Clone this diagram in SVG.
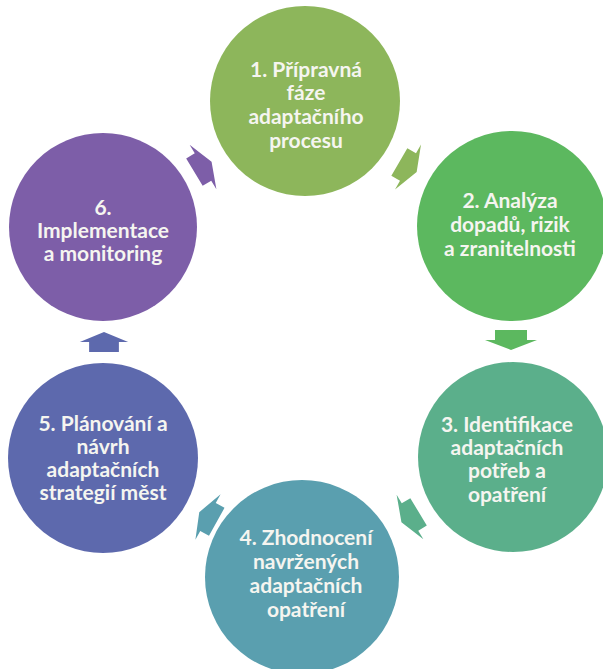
<svg xmlns="http://www.w3.org/2000/svg" width="603" height="669" viewBox="0 0 603 669">
<defs>
<style>
.lbl{font-family:Lato,"Liberation Sans",sans-serif;font-weight:700;font-size:21px;fill:#F5F5F0;text-anchor:middle}
</style>
<path id="arr" d="M-10,-16 L0,-16 L0,-26 L10,0 L0,26 L0,16 L-10,16 Z"/>
</defs>
<rect width="603" height="669" fill="#FFFFFF"/>
<g id="connectors">
<use href="#arr" fill="#8DB65B" transform="translate(408,167) rotate(30)"/>
<use href="#arr" fill="#5CB85F" transform="translate(511,340) rotate(90)"/>
<use href="#arr" fill="#5BAF8B" transform="translate(410,517) rotate(149)"/>
<use href="#arr" fill="#5A9FAF" transform="translate(208,517) rotate(209)"/>
<use href="#arr" fill="#5D69AD" transform="translate(104,342) rotate(-90) scale(1,0.93)"/>
<use href="#arr" fill="#7D5EA8" transform="translate(203,167) rotate(-31)"/>
</g>
<g id="node1">
<circle cx="305" cy="101" r="95" fill="#8DB65B"/>
<text class="lbl"><tspan x="306" y="77">1. Přípravná</tspan><tspan x="306" y="100">fáze</tspan><tspan x="306" y="124">adaptačního</tspan><tspan x="306" y="148">procesu</tspan></text>
</g>
<g id="node2">
<circle cx="512" cy="226" r="95" fill="#5CB85F"/>
<text class="lbl"><tspan x="510" y="208">2. Analýza</tspan><tspan x="510" y="232">dopadů, rizik</tspan><tspan x="510" y="256">a zranitelnosti</tspan></text>
</g>
<g id="node3">
<circle cx="513" cy="457" r="95" fill="#5BAF8B"/>
<text class="lbl"><tspan x="507" y="432">3. Identifikace</tspan><tspan x="507" y="455">adaptačních</tspan><tspan x="507" y="478">potřeb a</tspan><tspan x="507" y="502">opatření</tspan></text>
</g>
<g id="node4">
<circle cx="302" cy="577" r="97" fill="#5A9FAF"/>
<text class="lbl"><tspan x="306" y="545">4. Zhodnocení</tspan><tspan x="306" y="569">navržených</tspan><tspan x="306" y="593">adaptačních</tspan><tspan x="306" y="617">opatření</tspan></text>
</g>
<g id="node5">
<circle cx="103" cy="458" r="95" fill="#5D69AD"/>
<text class="lbl"><tspan x="103" y="431">5. Plánování a</tspan><tspan x="103" y="454">návrh</tspan><tspan x="103" y="477">adaptačních</tspan><tspan x="103" y="500">strategií měst</tspan></text>
</g>
<g id="node6">
<circle cx="103" cy="227" r="94" fill="#7D5EA8"/>
<text class="lbl"><tspan x="103" y="215">6.</tspan><tspan x="103" y="238">Implementace</tspan><tspan x="103" y="261">a monitoring</tspan></text>
</g>
</svg>
